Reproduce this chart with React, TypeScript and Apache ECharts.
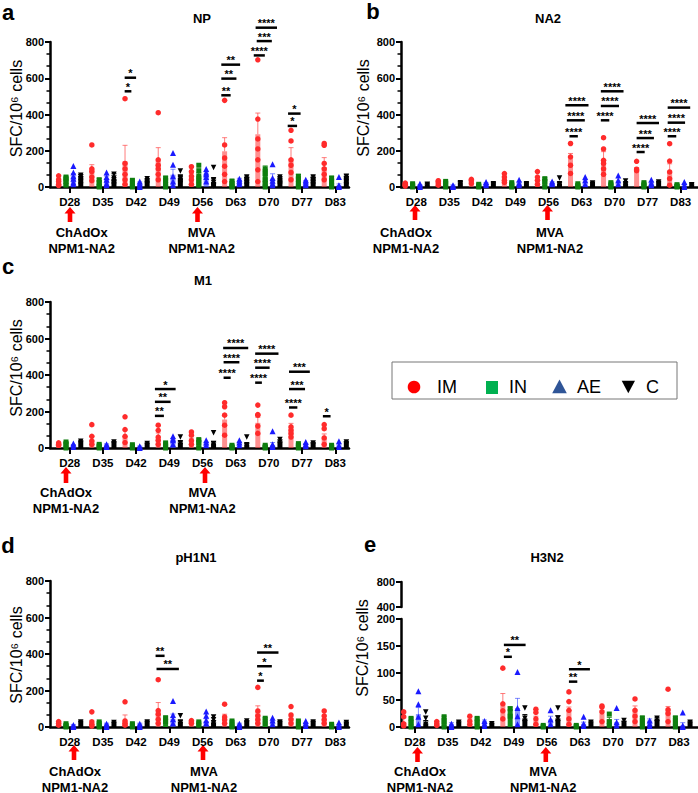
import React, { useEffect, useRef } from 'react';
import * as echarts from 'echarts';

const days = ['D28', 'D35', 'D42', 'D49', 'D56', 'D63', 'D70', 'D77', 'D83'];
const groupNames = ['IM', 'IN', 'AE', 'C'];
const panelTitles = ['NP', 'NA2', 'M1', 'pH1N1', 'H3N2'];
const panelLetters = ['a', 'b', 'c', 'd', 'e'];
const yName = 'SFC/10\u2076 cells';
const vaccine1 = ['ChAdOx', 'NPM1-NA2'];
const vaccine2 = ['MVA', 'NPM1-NA2'];

// ---------- NP (a) ----------
const npMean = [
  [33, 101, 142, 147, 55, 197, 291, 156, 110],
  [55, 40, 37, 50, 63, 33, 101, 61, 50],
  [59, 46, 18, 68, 67, 40, 46, 28, 9],
  [60, 46, 35, 52, 28, 55, 46, 55, 61],
];
const npSem = [
  [12, 22, 88, 70, 20, 75, 117, 61, 52],
  [5, 8, 6, 6, 15, 6, 15, 8, 8],
  [15, 14, 10, 30, 10, 8, 27, 8, 8],
  [8, 27, 8, 12, 17, 5, 8, 5, 6],
];
const npPoints = [
  [[62, 40, 30, 15, 8], [232, 100, 85, 55, 35], [487, 130, 100, 70, 40, 15], [410, 150, 120, 100, 70, 40], [112, 85, 60, 40, 15], [478, 232, 160, 115, 70, 30], [702, 375, 265, 210, 150, 95, 30], [313, 254, 150, 120, 80, 40], [240, 230, 130, 100, 70, 40]],
  [[55, 45, 30, 10], [40, 25, 5, 0], [37, 20, 5, 0], [50, 35, 15, 0], [120, 90, 60, 35, 10], [33, 20, 5, 0], [100, 74, 40, 20, 0], [60, 40, 20, 0], [50, 30, 10, 0]],
  [[116, 80, 60, 45, 25, 15], [80, 55, 40, 20, 10], [30, 20, 10, 0], [188, 123, 60, 30, 10], [100, 80, 70, 55, 30], [45, 35, 25, 15], [125, 50, 35, 20, 10], [40, 30, 20, 10], [55, 10, 5, 0]],
  [[65, 55, 45, 30, 10], [70, 50, 40, 25, 10], [45, 35, 25, 15], [88, 55, 45, 30, 20], [107, 40, 25, 10, 5], [55, 40, 25, 10], [55, 45, 35, 20, 10], [55, 40, 25, 10], [60, 45, 30, 10]],
];
// [day index, line start (group units from IM), line end, y value, stars]
const npSig: [number, number, number, number, string][] = [
  [2, -0.05, 0.86, 528, '*'], [2, -0.05, 1.5, 603, '*'],
  [5, -0.45, 0.82, 506, '**'], [5, -0.45, 1.6, 598, '**'], [5, -0.45, 2.1, 675, '**'],
  [6, -0.55, 0.95, 726, '****'], [6, -0.15, 1.9, 805, '***'], [6, -0.3, 2.6, 879, '****'],
  [7, -0.45, 0.82, 337, '*'], [7, -0.4, 1.3, 405, '*'],
];

// ---------- NA2 (b) ----------
const na2Mean = [
  [22, 31, 40, 50, 40, 155, 155, 96, 83],
  [18, 31, 15, 24, 46, 18, 24, 24, 13],
  [9, 9, 20, 22, 24, 24, 22, 22, 10],
  [15, 24, 18, 18, 18, 22, 18, 28, 13],
];
const na2Sem = [
  [3, 5, 3, 10, 15, 30, 40, 11, 45],
  [2, 3, 2, 3, 5, 2, 3, 3, 2],
  [3, 3, 4, 8, 5, 10, 10, 7, 6],
  [2, 3, 2, 2, 8, 3, 5, 3, 2],
];
const na2Points = [
  [[22, 15, 10, 5], [35, 30, 20, 10], [42, 35, 20], [74, 55, 37, 25], [85, 55, 37, 15], [240, 166, 120, 75], [272, 210, 147, 130, 100, 70], [142, 98, 90], [239, 143, 83, 46, 10]],
  [[18, 10, 0], [31, 20, 0], [15, 5, 0], [24, 10, 0], [46, 30, 0], [18, 5, 0], [24, 10, 0], [24, 10, 0], [13, 5, 0]],
  [[18, 9, 0], [9, 5, 0], [28, 20, 10], [40, 22, 10], [31, 24, 15], [55, 37, 15], [64, 37, 15], [40, 22, 10], [28, 10, 0]],
  [[15, 10], [24, 18], [18, 12], [18, 12], [50, 18, 10], [22, 15], [33, 18, 10], [28, 20], [13, 8]],
];
const na2Sig: [number, number, number, number, string][] = [
  [5, -0.14, 1.0, 280, '****'], [5, -0.5, 1.95, 368, '****'], [5, -0.7, 2.45, 451, '****'],
  [6, -0.37, 0.78, 368, '****'], [6, -0.37, 2.1, 447, '****'], [6, -0.37, 2.72, 528, '****'],
  [7, 0, 1.1, 193, '****'], [7, 0, 2.36, 270, '***'], [7, 0, 3.05, 353, '****'],
  [8, -0.27, 0.9, 280, '****'], [8, -0.27, 2.1, 355, '****'], [8, -0.27, 2.8, 438, '****'],
];

// ---------- M1 (c) ----------
const m1Mean = [
  [24, 46, 64, 60, 42, 156, 138, 115, 57],
  [33, 20, 18, 28, 46, 15, 15, 24, 15],
  [15, 20, 9, 42, 24, 24, 15, 20, 15],
  [37, 33, 24, 29, 24, 18, 33, 28, 33],
];
const m1Sem = [
  [4, 20, 33, 22, 12, 30, 30, 20, 20],
  [2, 2, 2, 3, 4, 2, 2, 2, 2],
  [4, 3, 2, 10, 8, 8, 15, 5, 6],
  [3, 3, 2, 8, 12, 8, 5, 3, 3],
];
const m1Points = [
  [[28, 20, 15], [128, 64, 38, 20], [171, 101, 64, 30], [125, 97, 60, 42, 20], [88, 70, 40, 20], [248, 226, 180, 125, 70], [235, 183, 180, 120, 80], [180, 116, 97, 80, 60], [128, 106, 55, 20]],
  [[33, 20, 0], [20, 10, 0], [18, 5, 0], [28, 10, 0], [46, 30, 0], [15, 5, 0], [15, 5, 0], [24, 10, 0], [15, 5, 0]],
  [[24, 15, 5], [20, 10, 5], [9, 5, 0], [64, 51, 42, 20], [42, 30, 15], [42, 30, 15], [92, 20, 10, 5], [33, 20, 10], [37, 15, 5]],
  [[37, 25], [33, 20], [24, 15], [60, 29, 15], [83, 24, 15], [60, 18, 10], [46, 33, 20], [28, 15], [33, 20]],
];
const m1Sig: [number, number, number, number, string][] = [
  [3, -0.45, 0.77, 176, '**'], [3, -0.45, 1.68, 253, '**'], [3, -0.45, 2.36, 323, '*'],
  [5, -0.14, 0.82, 385, '****'], [5, -0.14, 2.0, 470, '****'], [5, -0.2, 3.2, 548, '****'],
  [6, -0.36, 0.55, 358, '****'], [6, -0.36, 1.6, 440, '****'], [6, -0.36, 2.8, 517, '****'],
  [7, -0.27, 0.86, 222, '****'], [7, -0.27, 1.9, 323, '***'], [7, -0.27, 2.55, 418, '***'],
  [8, -0.18, 0.86, 174, '*'],
];

// ---------- pH1N1 (d) ----------
const h1Mean = [
  [28, 18, 37, 85, 28, 55, 88, 48, 46],
  [18, 28, 18, 51, 28, 33, 48, 33, 15],
  [11, 18, 18, 46, 33, 18, 24, 18, 9],
  [28, 24, 28, 28, 24, 33, 28, 28, 24],
];
const h1Sem = [
  [3, 19, 29, 49, 5, 15, 28, 8, 10],
  [2, 2, 2, 4, 3, 3, 4, 3, 2],
  [3, 3, 3, 25, 12, 3, 8, 5, 5],
  [2, 2, 2, 8, 12, 2, 2, 2, 2],
];
const h1Points = [
  [[30, 20, 10], [83, 28, 15, 5], [138, 33, 20, 10], [259, 90, 70, 42, 20], [35, 28, 20], [125, 55, 40, 20], [217, 88, 61, 40, 20], [112, 66, 42, 20], [88, 61, 40, 20]],
  [[18, 5, 0], [28, 10, 0], [18, 5, 0], [51, 30], [28, 10], [33, 10, 0], [48, 20], [33, 10, 0], [15, 5, 0]],
  [[11, 5, 0], [18, 10, 0], [18, 10, 0], [143, 66, 42, 20], [85, 61, 37, 20], [18, 10, 0], [51, 35, 15], [33, 20, 5], [24, 10, 0]],
  [[28, 20], [24, 15], [28, 20], [61, 28, 15], [55, 40, 20, 10], [33, 20], [28, 20], [28, 20], [24, 15]],
];
const h1Sig: [number, number, number, number, string][] = [
  [3, -0.36, 0.86, 390, '**'], [3, -0.23, 2.8, 318, '**'],
  [6, -0.1, 0.82, 254, '*'], [6, -0.1, 1.9, 333, '*'], [6, -0.1, 2.8, 408, '**'],
];

// ---------- H3N2 (e) ----------
const h3Mean = [
  [9, 8, 11, 43, 12, 31, 24, 33, 32],
  [16, 17, 16, 34, 3, 3, 14, 17, 17],
  [24, 6, 11, 35, 14, 6, 9, 12, 3],
  [7, 9, 6, 16, 16, 9, 9, 16, 9],
];
const h3Sem = [
  [8, 3, 4, 19, 8, 6, 6, 6, 6],
  [2, 3, 2, 3, 1, 1, 4, 2, 2],
  [12, 2, 2, 18, 6, 3, 5, 3, 5],
  [5, 2, 1, 7, 5, 2, 2, 2, 2],
];
const h3Points = [
  [[28, 19, 6, 2], [10, 6, 3], [20, 11, 5], [109, 43, 30, 15], [33, 27, 15, 5], [65, 47, 31, 15, 5], [39, 37, 28, 10], [52, 31, 20, 10], [70, 32, 25, 10]],
  [[16, 8, 0], [19, 10, 0], [16, 8, 0], [34, 20], [3, 0], [3, 0], [24, 10, 3], [17, 8, 0], [17, 8, 0]],
  [[66, 42, 19, 5], [6, 3, 0], [11, 6, 2], [102, 35, 20, 5], [31, 14, 5], [19, 6, 2], [35, 9, 3], [12, 6, 2], [27, 3, 0]],
  [[28, 16, 5], [9, 5], [6, 3], [35, 16, 8], [35, 16, 8], [9, 5], [12, 6], [16, 8], [9, 5]],
];
const h3Sig: [number, number, number, number, string][] = [
  [3, 0.14, 1.23, 130, '*'], [3, 0.14, 3.1, 152, '**'],
  [5, 0, 1.14, 84, '**'], [5, 0, 2.86, 107, '*'],
];

// ---------- layout / style ----------
const FONT = '"Liberation Sans", Arial, Helvetica, sans-serif';
const DAY_STEP = 4.5;
const xOf = (d: number, g: number) => d * DAY_STEP + g - 1.5;
const dayCenters = days.map((_, i) => i * DAY_STEP);

const GROUP_STYLE = [
  { bar: 'rgba(255,70,70,0.6)', err: 'rgba(255,80,80,0.75)', point: '#ff2b2b', symbol: 'circle', size: 5.5, rotate: 0 },
  { bar: '#178a17', err: '#178a17', point: '#0e7e0e', symbol: 'rect', size: 5, rotate: 0 },
  { bar: 'rgba(40,60,255,0.55)', err: 'rgba(40,60,255,0.6)', point: '#1a1aff', symbol: 'triangle', size: 6, rotate: 0 },
  { bar: '#000000', err: '#000000', point: '#000000', symbol: 'triangle', size: 5.5, rotate: 180 },
];

const GRIDS = [
  { left: 50, top: 42, width: 299, height: 145, xMin: -2.67, xMax: 37.86 },
  { left: 401, top: 42, width: 297, height: 145, xMin: -2.08, xMax: 38.36 },
  { left: 50, top: 302, width: 299, height: 146, xMin: -2.67, xMax: 37.86 },
  { left: 50, top: 581, width: 299, height: 146, xMin: -2.67, xMax: 37.86 },
  { left: 401, top: 619, width: 297, height: 108, xMin: -1.87, xMax: 38.58 },
  { left: 401, top: 582, width: 297, height: 25, xMin: -1.87, xMax: 38.58 },
];

const panels = [
  { mean: npMean, sem: npSem, pts: npPoints, sig: npSig },
  { mean: na2Mean, sem: na2Sem, pts: na2Points, sig: na2Sig },
  { mean: m1Mean, sem: m1Sem, pts: m1Points, sig: m1Sig },
  { mean: h1Mean, sem: h1Sem, pts: h1Points, sig: h1Sig },
  { mean: h3Mean, sem: h3Sem, pts: h3Points, sig: h3Sig },
];

function panelSeries(gi: number, p: typeof panels[number]) {
  const out: any[] = [];
  for (let g = 0; g < 4; g++) {
    const st = GROUP_STYLE[g];
    out.push({
      type: 'custom',
      name: groupNames[g],
      xAxisIndex: gi,
      yAxisIndex: gi,
      silent: true,
      z: 2,
      data: p.mean[g].map((m, d) => [xOf(d, g), m, m + p.sem[g][d]]),
      renderItem: (params: any, api: any) => {
        const x = api.value(0);
        const base = api.coord([x, 0]);
        const top = api.coord([x, api.value(1)]);
        const et = api.coord([x, api.value(2)]);
        const w = 5;
        return {
          type: 'group',
          children: [
            { type: 'line', shape: { x1: top[0], y1: top[1], x2: et[0], y2: et[1] }, style: { stroke: st.err, lineWidth: 1 } },
            { type: 'line', shape: { x1: et[0] - 2.5, y1: et[1], x2: et[0] + 2.5, y2: et[1] }, style: { stroke: st.err, lineWidth: 1 } },
            { type: 'rect', shape: { x: base[0] - w / 2, y: top[1], width: w, height: base[1] - top[1] }, style: { fill: st.bar } },
          ],
        };
      },
    });
    out.push({
      type: 'scatter',
      name: groupNames[g],
      xAxisIndex: gi,
      yAxisIndex: gi,
      silent: true,
      z: 3,
      symbol: st.symbol,
      symbolSize: st.size,
      symbolRotate: st.rotate,
      itemStyle: { color: st.point, opacity: 1 },
      data: p.pts[g].flatMap((arr, d) => arr.map((v) => [xOf(d, g), v])),
    });
  }
  out.push({
    type: 'custom',
    xAxisIndex: gi,
    yAxisIndex: gi,
    silent: true,
    clip: false,
    z: 5,
    data: p.sig.map((s) => [xOf(s[0], 0) + s[1], s[3]]),
    renderItem: (params: any, api: any) => {
      const s = p.sig[params.dataIndex];
      const p1 = api.coord([xOf(s[0], 0) + s[1], s[3]]);
      const p2 = api.coord([xOf(s[0], 0) + s[2], s[3]]);
      return {
        type: 'group',
        children: [
          { type: 'line', shape: { x1: p1[0], y1: p1[1], x2: p2[0], y2: p2[1] }, style: { stroke: '#000', lineWidth: 2.5 } },
          {
            type: 'text',
            x: (p1[0] + p2[0]) / 2,
            y: p1[1] - 4.5,
            style: {
              text: s[4], fill: '#000', fontSize: 11, fontWeight: 'bold', fontFamily: FONT,
              align: 'center', verticalAlign: 'middle', textAlign: 'center', textVerticalAlign: 'middle',
            },
          },
        ],
      };
    },
  });
  return out;
}

function txt(x: number, y: number, text: string, size: number, weight: string, extra: any = {}) {
  return {
    type: 'text', x, y, silent: true, ...extra,
    style: {
      text, fill: '#000', fontSize: size, fontWeight: weight, fontFamily: FONT,
      align: 'center', verticalAlign: 'middle', textAlign: 'center', textVerticalAlign: 'middle',
    },
  };
}

function arrow(cx: number, y0: number, y1: number) {
  return {
    type: 'polygon', silent: true,
    shape: {
      points: [[cx, y0], [cx + 5.5, y0 + 6.5], [cx + 2.3, y0 + 6.5], [cx + 2.3, y1], [cx - 2.3, y1], [cx - 2.3, y0 + 6.5], [cx - 5.5, y0 + 6.5]],
    },
    style: { fill: '#ff0000' },
  };
}

export default function App() {
  const ref = useRef<HTMLDivElement>(null);
  useEffect(() => {
    if (!ref.current) return;
    const chart = echarts.init(ref.current, undefined, { renderer: 'svg' });

    const xAxes = GRIDS.map((g, i) => ({
      gridIndex: i,
      type: 'value',
      min: g.xMin,
      max: g.xMax,
      show: i !== 5,
      axisLine: { show: true, onZero: false, lineStyle: { color: '#000', width: 2.5 } },
      axisTick: { show: true, customValues: dayCenters, length: 6, lineStyle: { color: '#000', width: 2 } },
      axisLabel: {
        show: true, customValues: dayCenters, margin: 9,
        formatter: (v: number) => days[Math.round(v / DAY_STEP)] ?? '',
        color: '#000', fontWeight: 'bold', fontSize: 11.5, fontFamily: FONT,
      },
      splitLine: { show: false },
    }));

    const yBase = {
      type: 'value',
      axisLine: { show: true, onZero: false, lineStyle: { color: '#000', width: 2.5 } },
      axisTick: { show: true, length: 5, lineStyle: { color: '#000', width: 2 } },
      splitLine: { show: false },
      axisLabel: { color: '#000', fontWeight: 'bold', fontSize: 11, fontFamily: FONT, margin: 6 },
    };
    const yAxes = GRIDS.map((g, i) => {
      if (i < 4) {
        return {
          ...yBase, gridIndex: i, min: 0, max: 800, interval: 200,
          minorTick: { show: true, splitNumber: 3, length: 3.5, lineStyle: { color: '#000', width: 1.5 } },
          minorSplitLine: { show: false },
        };
      }
      if (i === 4) return { ...yBase, gridIndex: i, min: 0, max: 200, interval: 50 };
      return { ...yBase, gridIndex: i, min: 400, max: 800, interval: 400 };
    });

    const series: any[] = [];
    panels.forEach((p, i) => series.push(...panelSeries(i, p)));
    series.push({ type: 'scatter', xAxisIndex: 5, yAxisIndex: 5, data: [], silent: true });

    const graphics: any[] = [];
    // panel letters
    const letterPos = [[8, 12], [373, 11.5], [8, 266], [8, 545.5], [370, 544.5]];
    panelLetters.forEach((l, i) => graphics.push(txt(letterPos[i][0], letterPos[i][1], l, 22, 'bold')));
    // titles
    const titlePos = [[202, 18.5], [548, 18.5], [203, 280], [196, 557], [547, 557]];
    panelTitles.forEach((t, i) => graphics.push(txt(titlePos[i][0], titlePos[i][1], t, 13, 'bold')));
    // y-axis names
    const yNamePos = [[16.7, 108.5], [363, 108], [16.7, 368], [16.5, 655], [362, 648]];
    yNamePos.forEach((p) => graphics.push(txt(p[0], p[1], yName, 16, 'normal', { rotation: Math.PI / 2 })));
    // vaccination arrows and labels
    const arrowPos = [
      [70, 197.5, 207, 222], [415, 547.5, 205, 220], [66, 205, 467, 483], [74, 203, 745, 760], [417.5, 545.8, 747, 762],
    ];
    arrowPos.forEach((a) => { graphics.push(arrow(a[0], a[2], a[3])); graphics.push(arrow(a[1], a[2], a[3])); });
    const labelPos = [
      [81.7, 201.7, 232, 248], [406, 550, 232, 248], [66, 202.5, 492.5, 508], [75, 204, 771, 787], [420, 543.3, 771, 787],
    ];
    labelPos.forEach((l) => {
      graphics.push(txt(l[0], l[2], vaccine1[0], 13, 'bold'));
      graphics.push(txt(l[0], l[3], vaccine1[1], 13, 'bold'));
      graphics.push(txt(l[1], l[2], vaccine2[0], 13, 'bold'));
      graphics.push(txt(l[1], l[3], vaccine2[1], 13, 'bold'));
    });
    // legend
    graphics.push({ type: 'rect', silent: true, shape: { x: 392, y: 362, width: 285, height: 37 }, style: { fill: '#fff', stroke: '#777', lineWidth: 1 } });
    graphics.push({ type: 'circle', silent: true, shape: { cx: 414, cy: 387, r: 6.3 }, style: { fill: '#ff0000' } });
    graphics.push({ type: 'rect', silent: true, shape: { x: 486, y: 381, width: 12, height: 13 }, style: { fill: '#00b050' } });
    graphics.push({ type: 'polygon', silent: true, shape: { points: [[559.5, 379.5], [566.8, 393.3], [552.2, 393.3]] }, style: { fill: '#2f5597' } });
    graphics.push({ type: 'polygon', silent: true, shape: { points: [[621.7, 380.7], [635, 380.7], [628.3, 393.3]] }, style: { fill: '#000' } });
    const legendTextX = [437, 509, 577, 646];
    groupNames.forEach((n, i) => graphics.push({
      type: 'text', x: legendTextX[i], y: 387, silent: true,
      style: { text: n, fill: '#000', fontSize: 18, fontFamily: FONT, align: 'left', verticalAlign: 'middle', textAlign: 'left', textVerticalAlign: 'middle' },
    }));

    chart.setOption({
      animation: false,
      backgroundColor: '#fff',
      grid: GRIDS.map((g) => ({ left: g.left, top: g.top, width: g.width, height: g.height, containLabel: false })),
      xAxis: xAxes,
      yAxis: yAxes,
      series,
      graphic: { elements: graphics },
    });
    return () => chart.dispose();
  }, []);
  return <div ref={ref} style={{ position: 'absolute', left: 0, top: 0, width: 698, height: 793 }} />;
}
